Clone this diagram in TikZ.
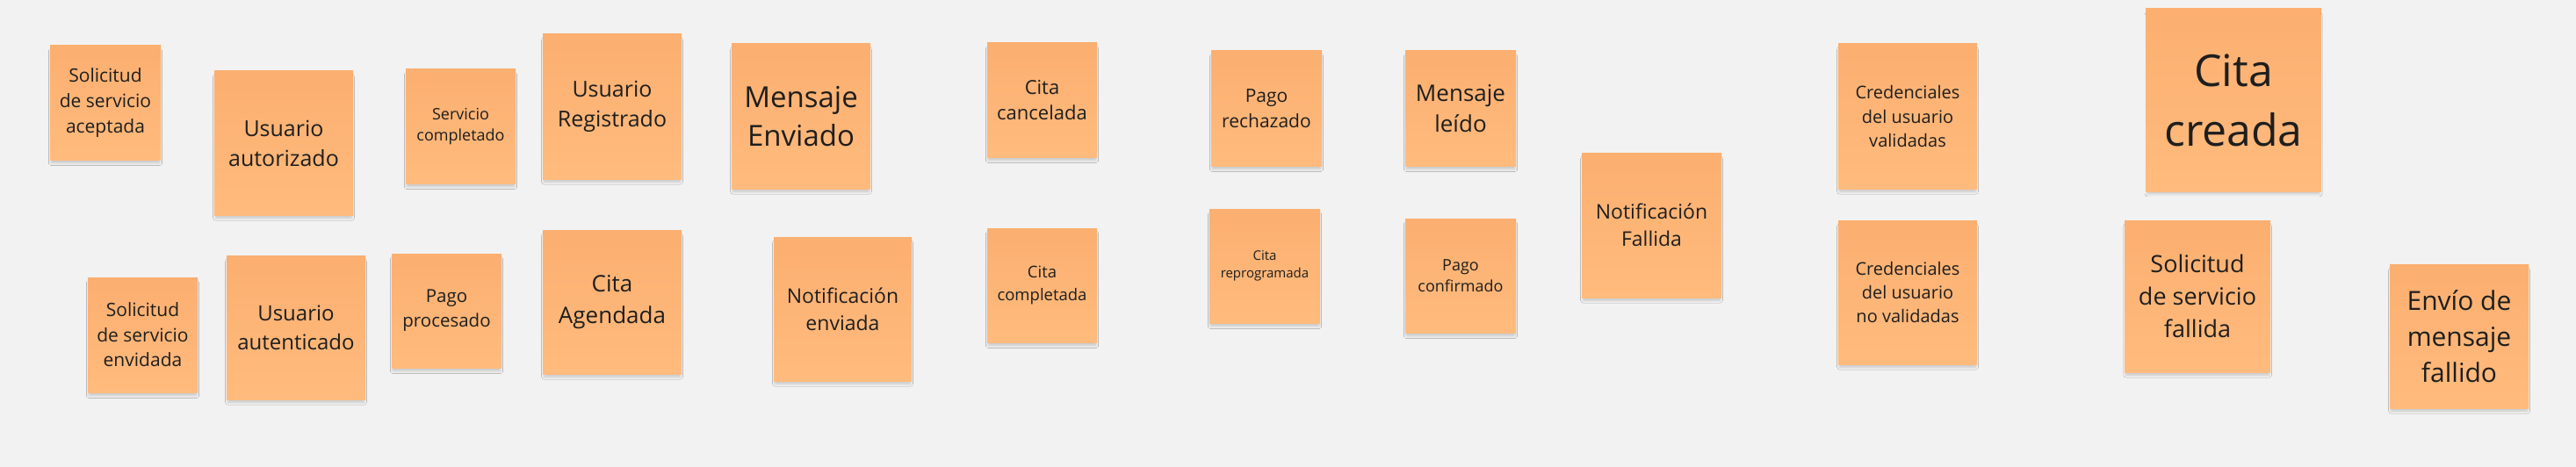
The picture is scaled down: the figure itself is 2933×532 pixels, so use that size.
\documentclass[tikz,border=0pt]{standalone}
\usepackage{fontspec}
\setmainfont{Open Sans}
\usetikzlibrary{shadows.blur}
\definecolor{bg}{HTML}{F2F2F2}
\definecolor{noteTop}{HTML}{FBAF70}
\definecolor{noteBot}{HTML}{FFBB7D}
\definecolor{txt}{HTML}{1E1E1E}
\tikzset{
  sticky/.style={rectangle, draw=none, top color=noteTop, bottom color=noteBot,
    align=center, text=txt, inner sep=0pt,
    blur shadow={shadow xshift=0pt, shadow yshift=-5pt, shadow scale=0.98, shadow blur radius=3pt, shadow opacity=18}},
  fs/.style={font=\fontsize{#1}{\dimexpr #1pt*136/100\relax}\selectfont},
  wh/.style 2 args={minimum width=#1, minimum height=#2}
}
\begin{document}
\begin{tikzpicture}[x=1pt,y=-1pt]
\fill[bg] (0,0) rectangle (2933,532);
\useasboundingbox (0,0) rectangle (2933,532);
% top / bottom rows
\node[sticky, wh={126}{130}, fs=21] (n1) at (120,117) {Solicitud\\de servicio\\aceptada};
\node[sticky, wh={158}{164}, fs=25] (n2) at (323,163) {Usuario\\autorizado};
\node[sticky, wh={125}{130}, fs=18] (n3) at (524.5,144) {Servicio\\completado};
\node[sticky, wh={158}{165}, fs=25] (n4) at (697,121.5) {Usuario\\Registrado};
\node[sticky, wh={158}{165}, fs=33] (n5) at (912,132.5) {Mensaje\\Enviado};
\node[sticky, wh={125}{131}, fs=21] (n6) at (162.5,381.5) {Solicitud\\de servicio\\envidada};
\node[sticky, wh={158}{164}, fs=24] (n7) at (337,373) {Usuario\\autenticado};
\node[sticky, wh={125}{130}, fs=20.5] (n8) at (508.5,354) {Pago\\procesado};
\node[sticky, wh={158}{164}, fs=26] (n9) at (697,344) {Cita\\Agendada};
\node[sticky, wh={157}{164}, fs=23] (n10) at (959.5,352) {Notificación\\enviada};
\node[sticky, wh={125}{130}, fs=22] (n11) at (1186.5,114) {Cita\\cancelada};
\node[sticky, wh={126}{131}, fs=21] (n12) at (1442,123.5) {Pago\\rechazado};
\node[sticky, wh={126}{131}, fs=26] (n13) at (1663,123.5) {Mensaje\\leído};
\node[sticky, wh={159}{165}, fs=23] (n14) at (1880.5,256.5) {Notificación\\Fallida};
\node[sticky, wh={125}{130}, fs=18.5] (n15) at (1186.5,325) {Cita\\completada};
\node[sticky, wh={126}{130}, fs=15] (n16) at (1440,303) {Cita\\reprogramada};
\node[sticky, wh={126}{130}, fs=18] (n17) at (1663,314) {Pago\\confirmado};
\node[sticky, wh={158}{165}, fs=20] (n18) at (2172,132.5) {Credenciales\\del usuario\\validadas};
\node[sticky, wh={200}{208}, fs=50] (n19) at (2543,114) {Cita\\creada};
\node[sticky, wh={158}{164}, fs=20] (n20) at (2172,333) {Credenciales\\del usuario\\no validadas};
\node[sticky, wh={166}{173}, fs=27] (n21) at (2502,337.5) {Solicitud\\de servicio\\fallida};
\node[sticky, wh={158}{164}, fs=30] (n22) at (2800,383) {Envío de\\mensaje\\fallido};
\end{tikzpicture}
\end{document}
